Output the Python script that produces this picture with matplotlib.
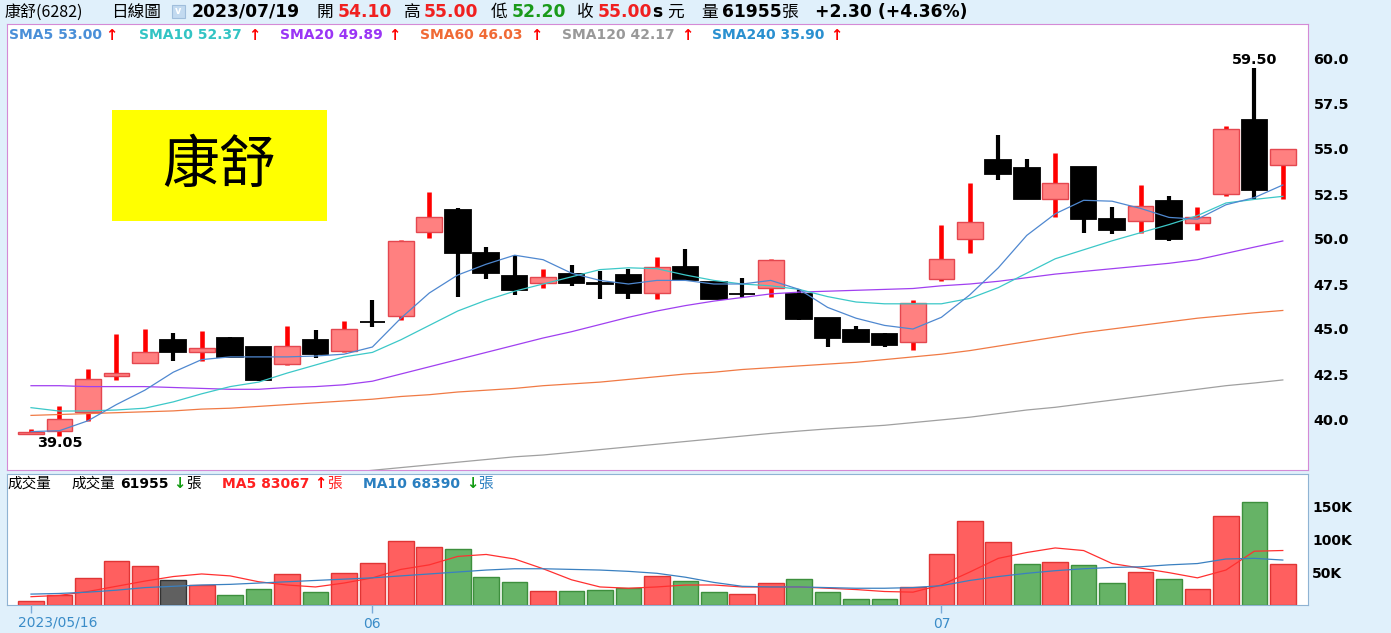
import numpy as np
import matplotlib
matplotlib.use('Agg')
import matplotlib.pyplot as plt
from matplotlib.patches import Rectangle

W, H = 1391, 633

# ---- data (daily, 2023/05/16 .. 2023/07/19) ----
opens = [39.15, 39.35, 40.40, 42.40, 43.10, 44.40, 43.75, 44.50, 44.00, 43.05,
         44.40, 43.80, 45.40, 45.75, 50.40, 51.60, 49.20, 47.95, 47.55, 48.05,
         47.55, 48.00, 47.00, 48.45, 47.60, 46.95, 47.30, 46.95, 45.60, 44.95,
         44.75, 44.30, 47.80, 50.00, 54.40, 53.95, 52.20, 54.00, 51.10, 51.00,
         52.10, 50.90, 52.50, 56.60, 54.10]
highs = [39.45, 40.75, 42.80, 44.70, 45.00, 44.80, 44.90, 44.55, 44.00, 45.15,
         44.95, 45.45, 46.60, 49.95, 52.60, 51.70, 49.55, 49.10, 48.35, 48.55,
         48.20, 48.35, 49.00, 49.45, 47.60, 47.85, 48.90, 47.25, 45.60, 45.15,
         44.80, 46.60, 50.80, 53.10, 55.80, 54.45, 54.80, 54.00, 51.80, 53.00,
         52.40, 51.80, 56.30, 59.50, 55.00]
lows = [39.15, 39.05, 39.90, 42.15, 43.10, 43.20, 43.20, 43.45, 42.10, 43.00,
        43.40, 43.70, 45.10, 45.50, 50.05, 46.80, 47.80, 46.90, 47.30, 47.40,
        46.65, 46.65, 46.65, 47.70, 46.65, 46.80, 46.80, 45.50, 44.00, 44.30,
        44.00, 43.85, 47.65, 49.20, 53.30, 52.20, 51.20, 50.35, 50.30, 50.35,
        49.90, 50.50, 52.40, 52.25, 52.20]
closes = [39.30, 40.00, 42.20, 42.55, 43.70, 43.70, 43.95, 43.45, 42.15, 44.05,
          43.60, 45.00, 45.40, 49.90, 51.20, 49.20, 48.10, 47.15, 47.90, 47.55,
          47.50, 47.00, 48.45, 47.70, 46.65, 46.95, 48.85, 45.55, 44.50, 44.30,
          44.10, 46.45, 48.90, 50.95, 53.60, 52.20, 53.10, 51.10, 50.50, 51.85,
          50.00, 51.20, 56.10, 52.70, 55.00]
prev_close0 = 39.0

sma5 = [39.30, 39.35, 39.90, 40.80, 41.60, 42.60, 43.30, 43.45, 43.45, 43.45,
        43.50, 43.60, 44.00, 45.60, 47.00, 48.00, 48.60, 49.10, 48.85, 48.10,
        47.70, 47.50, 47.70, 47.70, 47.50, 47.50, 47.70, 47.20, 46.20, 45.60,
        45.20, 45.00, 45.65, 46.90, 48.40, 50.20, 51.40, 52.15, 52.10, 51.70,
        51.20, 51.10, 51.90, 52.30, 53.00]
sma10 = [40.63, 40.44, 40.45, 40.50, 40.60, 40.95, 41.40, 41.80, 42.05, 42.55,
         43.00, 43.45, 43.70, 44.40, 45.20, 46.00, 46.60, 47.10, 47.50, 47.90,
         48.30, 48.40, 48.35, 48.00, 47.70, 47.50, 47.40, 47.20, 46.80, 46.50,
         46.40, 46.40, 46.40, 46.70, 47.30, 48.10, 48.90, 49.40, 49.90, 50.35,
         50.80, 51.30, 52.00, 52.20, 52.37]
sma20 = [41.85, 41.85, 41.80, 41.80, 41.80, 41.75, 41.70, 41.65, 41.65, 41.75,
         41.80, 41.90, 42.10, 42.50, 42.90, 43.30, 43.70, 44.10, 44.50, 44.85,
         45.25, 45.65, 46.00, 46.30, 46.55, 46.75, 46.95, 47.05, 47.10, 47.15,
         47.20, 47.25, 47.40, 47.50, 47.65, 47.85, 48.05, 48.20, 48.35, 48.50,
         48.65, 48.85, 49.20, 49.55, 49.89]
sma60 = [40.20, 40.25, 40.30, 40.35, 40.40, 40.45, 40.55, 40.60, 40.70, 40.80,
         40.90, 41.00, 41.10, 41.25, 41.35, 41.50, 41.60, 41.70, 41.85, 41.95,
         42.05, 42.20, 42.35, 42.50, 42.60, 42.75, 42.85, 42.95, 43.05, 43.15,
         43.30, 43.45, 43.60, 43.80, 44.05, 44.30, 44.55, 44.80, 45.00, 45.20,
         45.40, 45.60, 45.75, 45.90, 46.03]
sma120 = [35.45, 35.60, 35.75, 35.90, 36.05, 36.20, 36.35, 36.50, 36.60, 36.75,
          36.90, 37.00, 37.15, 37.30, 37.45, 37.60, 37.75, 37.90, 38.00, 38.15,
          38.30, 38.45, 38.60, 38.75, 38.90, 39.05, 39.20, 39.33, 39.45, 39.55,
          39.65, 39.80, 39.95, 40.10, 40.30, 40.50, 40.65, 40.85, 41.05, 41.25,
          41.45, 41.65, 41.85, 42.00, 42.17]

volume = [5000, 14000, 41000, 67000, 59000, 38000, 30000, 15000, 24000, 47000,
          20000, 48000, 64000, 98000, 88000, 86000, 42000, 35000, 21000, 21000,
          23000, 25000, 44000, 36000, 19000, 16000, 33000, 39000, 19000, 8500,
          8500, 27000, 77000, 129000, 96000, 62000, 66000, 61000, 33000, 50000,
          40000, 24000, 136000, 158000, 61955]
vol_ma5 = [12, 14, 20, 28, 36, 43, 47, 44, 35, 30, 27, 33, 41, 54, 61, 74, 77, 70,
           55, 38, 27, 25, 27, 30, 30, 27, 27, 27, 25, 23, 20, 19, 30, 50, 71, 80,
           87, 83, 63, 56, 49, 41, 53, 82, 83.067]
vol_ma10 = [16, 17, 19, 22, 26, 28, 30, 31, 33, 35, 37, 39, 41, 44, 47, 50, 53, 55,
            55, 54, 53, 51, 48, 42, 34, 28, 27, 27, 26, 25, 25, 26, 29, 37, 43, 48,
            52, 55, 57, 58, 61, 63, 70, 71, 68.39]

date_ticks = [0, 12, 32]
date_labels = ['2023/05/16', '06', '07']
price_ticks = [40.0, 42.5, 45.0, 47.5, 50.0, 52.5, 55.0, 57.5, 60.0]
vol_ticks = [50000, 100000, 150000]
vol_tick_labels = ['50K', '100K', '150K']

CJK = ['Noto Sans CJK TC', 'DejaVu Sans']
LAT = ['DejaVu Sans', 'Noto Sans CJK TC']

RED_TXT = '#f02020'
GRN_TXT = '#1a9a1a'


def fx(x):
    return x / W


def fy(y):
    return 1 - y / H


def put(x, y, s, color='black', size=10, weight='bold', family=LAT, **kw):
    fig.text(fx(x), fy(y), s, color=color, fontsize=size, fontweight=weight,
             ha=kw.pop('ha', 'left'), va=kw.pop('va', 'center'), family=family, **kw)


fig = plt.figure(figsize=(W / 100, H / 100), dpi=100, facecolor='#e0f0fb')

x = np.arange(len(closes))
o = np.array(opens); c = np.array(closes)
hi = np.array(highs); lo = np.array(lows)
up = c > o

# ---- price panel ----
ax = fig.add_axes([fx(7), fy(470), (1308 - 7) / W, (470 - 24) / H])
ax.set_facecolor('white')
ax.set_xlim((7 - 31) / 28.45, (1308 - 31) / 28.45)
ax.set_ylim(60 - (470 - 59) / 18, 60 + (59 - 24) / 18)

ax.vlines(x[up], lo[up], hi[up], color='#ff0000', lw=3.3, zorder=2)
ax.vlines(x[~up], lo[~up], hi[~up], color='black', lw=3.0, zorder=2)
body_lo = np.minimum(o, c)
body_h = np.abs(c - o)
ax.bar(x[up], body_h[up], bottom=body_lo[up], width=0.9, color='#ff8080',
       edgecolor='#e4474f', linewidth=1, zorder=3)
ax.bar(x[~up], body_h[~up], bottom=body_lo[~up], width=0.9, color='black',
       edgecolor='black', linewidth=1.3, zorder=3)

ax.plot(x, sma120, color='#a0a0a0', lw=0.9, zorder=4)
ax.plot(x, sma60, color='#f07a45', lw=0.9, zorder=4)
ax.plot(x, sma20, color='#a040f0', lw=0.9, zorder=4)
ax.plot(x, sma10, color='#3cc8c8', lw=0.9, zorder=4)
ax.plot(x, sma5, color='#4f88d0', lw=0.9, zorder=4)

imax = int(np.argmax(hi)); imin = int(np.argmin(lo))
ax.annotate('%.2f' % hi[imax], (x[imax], hi[imax]), xytext=(0, 1), textcoords='offset points',
            ha='center', va='bottom', fontsize=10.4, fontweight='bold', zorder=6)
ax.annotate('%.2f' % lo[imin], (x[imin], lo[imin]), xytext=(0, 0), textcoords='offset points',
            ha='center', va='top', fontsize=10.4, fontweight='bold', zorder=6)

ax.yaxis.tick_right()
ax.set_yticks(price_ticks)
ax.set_yticklabels(['%.1f' % t for t in price_ticks], fontweight='bold')
ax.tick_params(axis='y', length=0, pad=4, labelsize=10.4)
ax.set_xticks([])
for sp in ax.spines.values():
    sp.set_color('#d48ad6')

# ---- volume panel ----
axv = fig.add_axes([fx(7), fy(604.5), (1308 - 7) / W, (604.5 - 474) / H])
axv.set_facecolor('white')
axv.set_xlim(ax.get_xlim())
axv.set_ylim(0, (604.5 - 474) / 32.5 * 50000)
prev = np.concatenate([[prev_close0], c[:-1]])
vcol = np.where(c > prev, '#ff5f5f', np.where(c < prev, '#66b366', '#606060'))
vedge = np.where(c > prev, '#e03535', np.where(c < prev, '#3d8f3d', '#333333'))
axv.bar(x, volume, width=0.9, color=vcol, edgecolor=vedge, linewidth=1, zorder=2)
axv.plot(x, np.array(vol_ma5) * 1000, color='#ff3030', lw=0.9, zorder=3)
axv.plot(x, np.array(vol_ma10) * 1000, color='#3a80c0', lw=0.9, zorder=3)

axv.yaxis.tick_right()
axv.set_yticks(vol_ticks)
axv.set_yticklabels(vol_tick_labels, fontweight='bold')
axv.tick_params(axis='y', length=0, pad=3, labelsize=10)
axv.set_xticks(date_ticks)
axv.set_xticklabels([''] + date_labels[1:])
axv.tick_params(axis='x', length=5.8, width=1, color='#7aaad8', labelcolor='#3a8cc8',
                labelsize=10, pad=3)
for sp in axv.spines.values():
    sp.set_color('#8fb3d3')
put(18, 622, date_labels[0], color='#3a8cc8', size=10, weight='normal')

# ---- header ----
fig.add_artist(Rectangle((fx(172), fy(18)), 13 / W, 13 / H, transform=fig.transFigure,
                         facecolor='#c2daf0', edgecolor='#a0bedc', lw=0.8))
put(178.5, 11.5, 'v', color='white', size=7, ha='center')
put(5, 12, '康舒(6282)', size=11.5, weight='normal', family=CJK)
put(111, 12, '日線圖', size=12, weight='normal', family=CJK)
put(192, 12, '2023/07/19', size=12.3)
put(317, 12, '開', size=12, weight='normal', family=CJK)
put(338, 12, '54.10', color=RED_TXT, size=12.3)
put(404, 12, '高', size=12, weight='normal', family=CJK)
put(424, 12, '55.00', color=RED_TXT, size=12.3)
put(491, 12, '低', size=12, weight='normal', family=CJK)
put(512, 12, '52.20', color=GRN_TXT, size=12.3)
put(577, 12, '收', size=12, weight='normal', family=CJK)
put(598, 12, '55.00', color=RED_TXT, size=12.3)
put(652, 12, 's', size=12.3)
put(667, 12, '元', size=12, weight='normal', family=CJK)
put(701, 12, '量', size=12, weight='normal', family=CJK)
put(722, 12, '61955', size=12.3)
put(782, 12, '張', size=12, weight='normal', family=CJK)
put(815, 12, '+2.30 (+4.36%)', size=12.3)

# ---- price legend row ----
legend_items = [(9, 'SMA5 53.00', '#4a8fd8', 105), (139, 'SMA10 52.37', '#33c4c4', 248),
                (280, 'SMA20 49.89', '#9a35f5', 388), (420, 'SMA60 46.03', '#f06a35', 530),
                (562, 'SMA120 42.17', '#999999', 681), (712, 'SMA240 35.90', '#2a90d0', 830)]
for lx, txt, col, axp in legend_items:
    put(lx, 35, txt, color=col, size=10)
    put(axp, 35, '↑', color='#ff0000', size=10.5)

# ---- volume legend row ----
put(7, 484, '成交量', size=10.5, weight='normal', family=CJK)
put(71, 484, '成交量', size=10.5, weight='normal', family=CJK)
put(120, 484, '61955', size=10)
put(173, 484, '↓', color='#109a10', size=10.5)
put(186, 484, '張', size=10.5, weight='normal', family=CJK)
put(222, 484, 'MA5 83067', color='#ff2020', size=10)
put(314, 484, '↑', color='#ff0000', size=10.5)
put(327, 484, '張', color='#ff2020', size=10.5, weight='normal', family=CJK)
put(363, 484, 'MA10 68390', color='#2a7fc0', size=10)
put(466, 484, '↓', color='#109a10', size=10.5)
put(478, 484, '張', color='#2a7fc0', size=10.5, weight='normal', family=CJK)

# ---- name box ----
fig.add_artist(Rectangle((fx(112), fy(221)), 215 / W, 111 / H, transform=fig.transFigure,
                         facecolor='#ffff00', edgecolor='none', zorder=5))
fig.text(fx(219), fy(166), '康舒', fontsize=41, family=CJK, ha='center', va='center', zorder=6)

fig.savefig('out.png', dpi=100, facecolor=fig.get_facecolor())
